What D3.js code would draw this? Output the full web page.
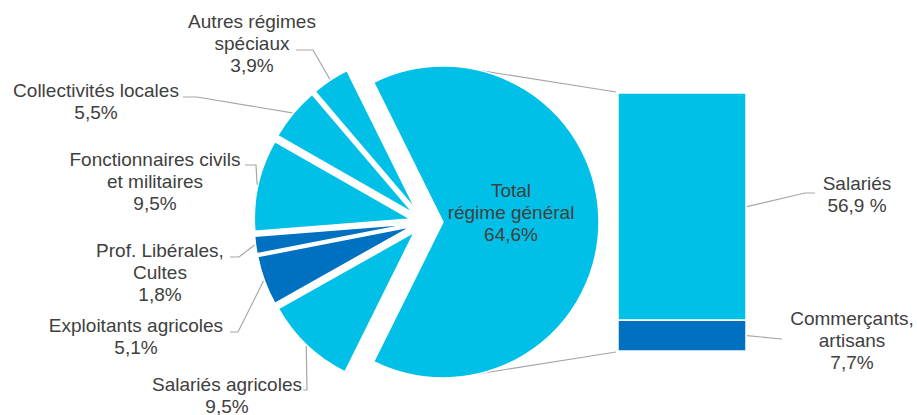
<!DOCTYPE html>
<html><head><meta charset="utf-8">
<script src="https://cdn.jsdelivr.net/npm/d3@7"></script>
<style>
html,body{margin:0;padding:0;background:#fff;}
svg{display:block;}
text{font-family:"Liberation Sans",Arial,sans-serif;font-size:19px;fill:#404040;}
</style></head>
<body>
<svg id="c" width="917" height="415"></svg>
<script>
// ---- data ----
const pieCategories = ["Total régime général", "Salariés agricoles", "Exploitants agricoles", "Prof. Libérales, Cultes", "Fonctionnaires civils et militaires", "Collectivités locales", "Autres régimes spéciaux"];
const pieValues = [64.6, 9.5, 5.1, 1.8, 9.5, 5.5, 3.9];
const pieLabelLines = [
  ["Total", "régime général", "64,6%"],
  ["Salariés agricoles", "9,5%"],
  ["Exploitants agricoles", "5,1%"],
  ["Prof. Libérales,", "Cultes", "1,8%"],
  ["Fonctionnaires civils", "et militaires", "9,5%"],
  ["Collectivités locales", "5,5%"],
  ["Autres régimes", "spéciaux", "3,9%"]
];
const barCategories = ["Salariés", "Commerçants, artisans"];
const barValues = [56.9, 7.7];
const barLabelLines = [["Salariés", "56,9 %"], ["Commerçants,", "artisans", "7,7%"]];

// ---- styles / layout ----
const cyan = "#00C0E8", dark = "#0070C0";
const pieColor = d3.scaleOrdinal().domain(pieCategories)
  .range([cyan, cyan, dark, dark, cyan, cyan, cyan]);
const barColor = d3.scaleOrdinal().domain(barCategories).range([cyan, dark]);
const cx = 424, cy = 222, R = 156;
const explodeBig = 19, explodeSmall = 14;
const lineH = 22;
// label layout: [x center, first baseline, leader polyline start/elbow]
const pieLabelLayout = [
  {x: 511, y: 197},
  {x: 227, y: 391, elbow: [[303, 390], [307, 390]]},
  {x: 136, y: 332, elbow: [[230, 332], [238, 332]]},
  {x: 160, y: 257, elbow: [[230, 257], [239, 257]]},
  {x: 155, y: 166, elbow: [[245, 165], [256, 165]]},
  {x: 96, y: 97, elbow: [[183, 97], [197, 97]]},
  {x: 252, y: 28, elbow: [[296, 50], [313, 50]]}
];

const svg = d3.select("#c");
const total = d3.sum(pieValues);
const bigAngle = pieValues[0] / total * 2 * Math.PI;
const start = Math.PI / 2 - bigAngle / 2;
const pie = d3.pie().sort(null).startAngle(start).endAngle(start + 2 * Math.PI);
const arcs = pie(pieValues);
const arc = d3.arc().innerRadius(0).outerRadius(R);

function offset(a, i) {
  const m = (a.startAngle + a.endAngle) / 2;
  const e = i === 0 ? explodeBig : explodeSmall;
  return [e * Math.sin(m), -e * Math.cos(m)];
}

// connector lines pie -> bar
const barX0 = 618, barX1 = 746, barTop = 93, barBot = 351;
const y = d3.scaleLinear().domain([0, d3.sum(barValues)]).range([barBot, barTop]);
const o0 = offset(arcs[0], 0);
const aTop = 14 * Math.PI / 180, aBot = Math.PI - aTop;
const lineColor = "#A6A6A6";
svg.append("line")
  .attr("x1", cx + o0[0] + R * Math.sin(aTop)).attr("y1", cy + o0[1] - R * Math.cos(aTop))
  .attr("x2", barX0 - 2).attr("y2", y(d3.sum(barValues)) - 1)
  .attr("stroke", lineColor).attr("stroke-width", 1.2);
svg.append("line")
  .attr("x1", cx + o0[0] + R * Math.sin(aBot)).attr("y1", cy + o0[1] - R * Math.cos(aBot))
  .attr("x2", barX0 - 2).attr("y2", y(0) + 1)
  .attr("stroke", lineColor).attr("stroke-width", 1.2);

// pie slices
svg.append("g").selectAll("path").data(arcs).join("path")
  .attr("transform", (d, i) => { const o = offset(d, i); return `translate(${cx + o[0]},${cy + o[1]})`; })
  .attr("d", arc)
  .attr("fill", (d, i) => pieColor(pieCategories[i]))
  .attr("stroke", "#fff").attr("stroke-width", 1.5).attr("stroke-linejoin", "round");

// bar (stacked)
let acc = 0;
const stack = barValues.map(v => { const s = {y0: acc, y1: acc + v}; acc += v; return s; }).reverse();
const barData = barValues.map((v, i) => ({v, i, y0: 0, y1: 0}));
let cum = 0;
for (let k = barValues.length - 1; k >= 0; k--) { barData[k].y0 = cum; cum += barValues[k]; barData[k].y1 = cum; }
svg.append("g").selectAll("rect").data(barData).join("rect")
  .attr("x", barX0).attr("width", barX1 - barX0)
  .attr("y", d => y(d.y1)).attr("height", d => y(d.y0) - y(d.y1))
  .attr("fill", d => barColor(barCategories[d.i]))
  .attr("stroke", "#fff").attr("stroke-width", 1.5);

// pie leader lines + labels
arcs.forEach((d, i) => {
  const L = pieLabelLayout[i];
  if (L.elbow) {
    const m = (d.startAngle + d.endAngle) / 2;
    const r = R + explodeSmall + 1;
    const end = [cx + r * Math.sin(m), cy - r * Math.cos(m)];
    svg.append("polyline")
      .attr("points", [...L.elbow, end].map(p => p.join(",")).join(" "))
      .attr("fill", "none").attr("stroke", lineColor).attr("stroke-width", 1.2);
  }
  const t = svg.append("text").attr("text-anchor", "middle");
  pieLabelLines[i].forEach((s, j) => t.append("tspan").attr("x", L.x).attr("y", L.y + j * lineH).text(s));
});

// bar leader lines + labels
const barLabelLayout = [
  {x: 857, y: 190, pts: [[815, 193], [805, 193]]},
  {x: 852, y: 325, pts: [[782, 339]]}
];
barData.forEach((d, i) => {
  const L = barLabelLayout[i];
  const start = [barX1 + 1, (y(d.y0) + y(d.y1)) / 2];
  svg.append("polyline")
    .attr("points", [start, ...L.pts.slice().reverse()].map(p => p.join(",")).join(" "))
    .attr("fill", "none").attr("stroke", lineColor).attr("stroke-width", 1.2);
  const t = svg.append("text").attr("text-anchor", "middle");
  barLabelLines[i].forEach((s, j) => t.append("tspan").attr("x", L.x).attr("y", L.y + j * lineH).text(s));
});
</script>
</body></html>
